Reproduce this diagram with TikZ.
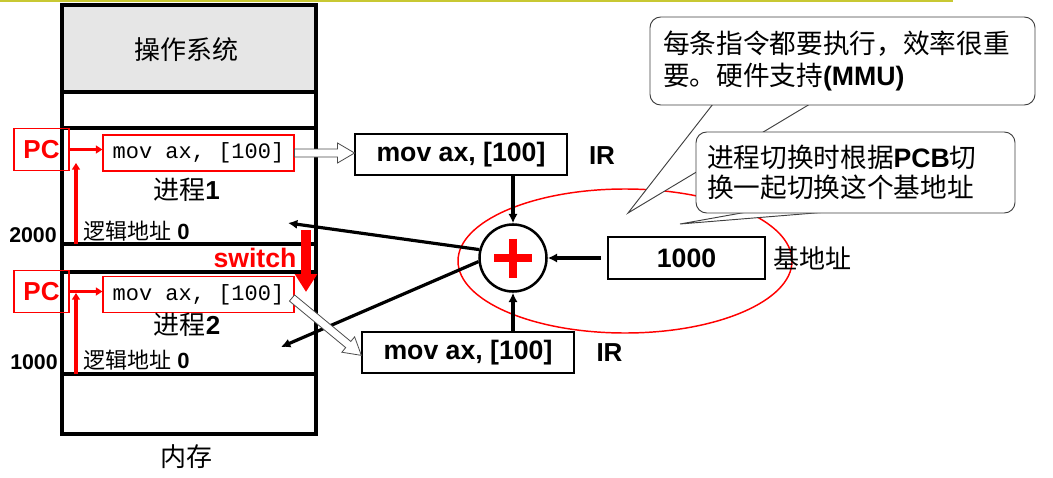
\documentclass[tikz,border=0pt]{standalone}
\usepackage{fontspec}
\setmainfont{Liberation Sans}
\setmonofont{Liberation Mono}
\newfontfamily\cjk{Noto Sans CJK SC}
\usepackage{tikz}
\usetikzlibrary{arrows.meta}
\usepackage{xcolor}
\definecolor{topbar}{RGB}{200,200,50}
\definecolor{osgray}{RGB}{230,230,230}
\newlength\pxu
\setlength\pxu{0.75pt}
\newcommand\hollowarrow[3]{\draw[hollow,shift={#1},rotate=#2] (0,-4)--(#3-17,-4)--(#3-17,-10)--(#3,0)--(#3-17,10)--(#3-17,4)--(0,4)--cycle;}

\begin{document}
\begin{tikzpicture}[x=0.75pt,y=-0.75pt,
  mem/.style={line width=2.6pt},
  pcbox/.style={draw=red,line width=0.8pt,text=red,font=\fontsize{19.5}{20}\selectfont\bfseries,minimum width=55\pxu,minimum height=42\pxu,inner sep=0pt},
  insbox/.style={draw=red,line width=0.8pt,font=\fontsize{16.5}{18}\selectfont\ttfamily,minimum width=191\pxu,minimum height=36\pxu,inner sep=0pt},
  irbox/.style={draw,line width=1pt,font=\fontsize{20}{22}\selectfont\bfseries,minimum width=212\pxu,minimum height=41\pxu,inner sep=0pt},
  lbl/.style={font=\fontsize{19.5}{22}\selectfont,inner sep=0pt},
  small/.style={font=\fontsize{16.5}{18}\selectfont,inner sep=0pt},
  blk/.style={line width=2.4pt,-{Latex[length=7pt,width=7pt]}},
  redarr/.style={red,line width=2.5pt,-{Triangle[length=5pt,width=6pt]}},
  hollow/.style={draw=black!70,line width=0.6pt,fill=white},
  callout/.style={draw=black!75,line width=0.7pt,fill=white,rounded corners=8pt}]
\useasboundingbox (0,0) rectangle (1053,478);
\draw[topbar,line width=1.5pt] (0,1) -- (953,1);

% memory
\fill[osgray] (62,5) rectangle (316,92);
\draw[mem] (62,5) rectangle (316,434);
\foreach \y in {92,128,244,272,374}
  \draw[mem] (62,\y) -- (316,\y);
\node[lbl] (os) at (186.5,50) {\cjk 操作系统};
\node[lbl] (memlbl) at (186,457) {\cjk 内存};

% process 1
\node[pcbox] (pc1) at (41.5,149.5) {PC};
\node[insbox] (ins1) at (198.5,153) {mov ax, [100]};
\node[lbl] (proc1) at (186.5,190) {{\cjk 进程}\textbf{1}};
\node[small,anchor=west] (log1) at (83,231) {{\cjk 逻辑地址} \textbf{0}};
\node[small,font=\fontsize{16}{18}\selectfont\bfseries] (a2000) at (33,235) {2000};
\coordinate (low1) at (76,244);
\coordinate (top1) at (76,163);
\draw[redarr] (pc1.east) -- (pc1.east -| ins1.west);
\draw[redarr] (low1) -- (top1);

% process 2
\node[pcbox] (pc2) at (41.5,291.5) {PC};
\node[insbox] (ins2) at (198.5,294.5) {mov ax, [100]};
\node[lbl] (proc2) at (187,325) {{\cjk 进程}\textbf{2}};
\node[small,anchor=west] (log2) at (83,360) {{\cjk 逻辑地址} \textbf{0}};
\node[small,font=\fontsize{16}{18}\selectfont\bfseries] (a1000) at (34,362) {1000};
\coordinate (low2) at (76,374);
\coordinate (top2) at (76,293);
\draw[redarr] (pc2.east) -- (pc2.east -| ins2.west);
\draw[redarr] (low2) -- (top2);

% switch
\node[lbl,text=red,font=\fontsize{20}{22}\selectfont\bfseries] (swl) at (255,258) {switch};
\coordinate (sw1) at (306,230);
\coordinate (sw2) at (306,292);
\draw[red,line width=7.5pt,-{Triangle[length=13.5pt,width=16pt]}] (sw1) -- (sw2);

% adder
\draw[red,line width=1.1pt] (625,261) ellipse [x radius=167,y radius=72];
\node[irbox] (ir1) at (461,154.5) {mov ax, [100]};
\node[irbox] (ir2) at (468,352.5) {mov ax, [100]};
\node[lbl,font=\fontsize{19.5}{22}\selectfont\bfseries] (irl1) at (602,156) {IR};
\node[lbl,font=\fontsize{19.5}{22}\selectfont\bfseries] (irl2) at (609.5,353) {IR};
\node[draw,circle,line width=1.9pt,minimum size=67\pxu,inner sep=0pt,fill=white] (plus) at (513,258) {};
\draw[red,line width=5.3pt] ([shift={(-19,0)}]plus.center) -- ([shift={(19,0)}]plus.center);
\draw[red,line width=5.3pt] ([shift={(0,-19.5)}]plus.center) -- ([shift={(0,19.5)}]plus.center);
\node[irbox,minimum width=157\pxu,minimum height=42\pxu] (base) at (686.5,258) {1000};
\node[lbl] (baselbl) at (812,258) {\cjk 基地址};

\coordinate (p1tgt) at (288,223);
\coordinate (p2tgt) at (281,347);
\draw[blk] (ir1.south -| plus) -- (plus.north);
\draw[blk] (ir2.north -| plus) -- (plus.south);
\draw[blk,shorten <=5pt] (base.west) -- (plus.east);
\draw[blk] (plus.166) -- (p1tgt);
\draw[blk] (plus.186) -- (p2tgt);

\hollowarrow{(ins1.east)}{0}{60}
\hollowarrow{(292,298)}{-39.6}{90}

% notes
\coordinate (tip1) at (628,213);
\filldraw[callout,rounded corners=0pt] (713,104) -- (tip1) -- (810,104);
\node[callout,minimum width=385\pxu,minimum height=88\pxu,text width=359\pxu,align=left,inner sep=0pt,font=\fontsize{20}{23.5}\selectfont] (note1) at (842.5,61)
  {{\cjk 每条指令都要执行，效率很重}\\{\cjk 要。硬件支持}\textbf{(MMU)}};
\coordinate (tip2) at (680,224);
\filldraw[callout,rounded corners=0pt] (747,212) -- (tip2) -- (827,212);
\node[callout,minimum width=319\pxu,minimum height=81\pxu,text width=297\pxu,align=left,inner sep=0pt,font=\fontsize{20}{22.5}\selectfont] (note2) at (855.5,172.5)
  {{\cjk 进程切换时根据}\textbf{PCB}{\cjk 切}\\{\cjk 换一起切换这个基地址}};
\end{tikzpicture}
\end{document}
